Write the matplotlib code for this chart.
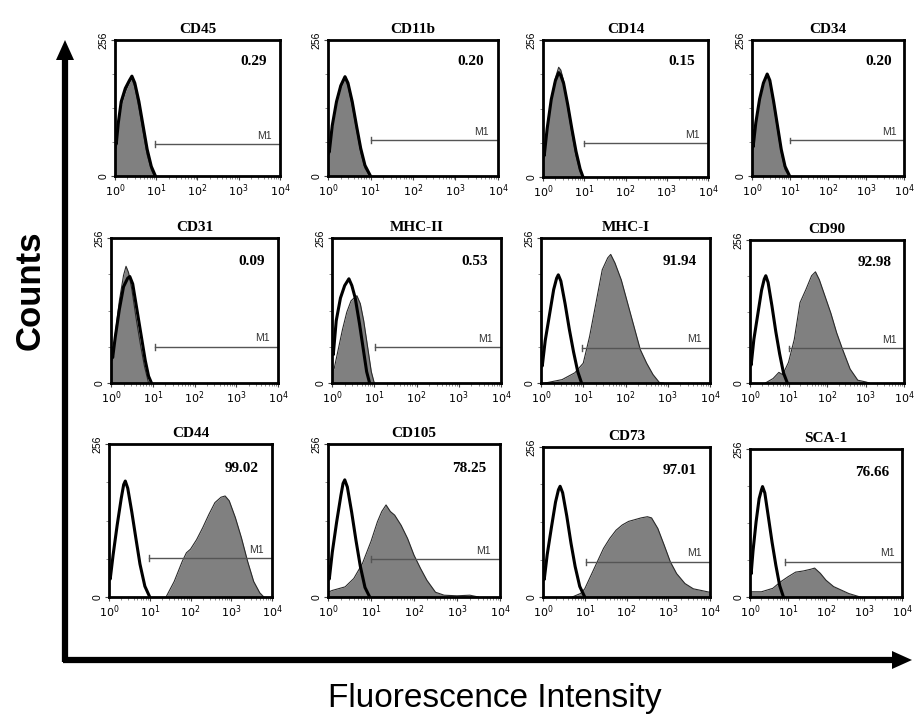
import matplotlib
matplotlib.use("Agg")
import matplotlib.pyplot as plt
from matplotlib.ticker import FixedLocator, NullFormatter, LogLocator

# ---------------- data ----------------
markers = ["CD45", "CD11b", "CD14", "CD34",
           "CD31", "MHC-II", "MHC-I", "CD90",
           "CD44", "CD105", "CD73", "SCA-1"]
percentages = ["0.29", "0.20", "0.15", "0.20",
               "0.09", "0.53", "91.94", "92.98",
               "99.02", "78.25", "97.01", "76.66"]
# M1 gate: start (decades) and level (counts)
m1_start = [0.98, 1.0, 1.0, 1.0, 1.05, 1.01, 0.98, 1.02, 0.98, 0.99, 1.03, 0.92]
m1_level = [60, 68, 63, 67, 64, 63, 62, 62, 65, 63, 60, 61]

# isotype control histograms (decade, counts)
control_dec = [
    [0, 0.03, 0.08, 0.15, 0.25, 0.35, 0.41, 0.48, 0.58, 0.68, 0.78, 0.88, 0.98],
    [0, 0.03, 0.1, 0.2, 0.3, 0.4, 0.47, 0.57, 0.67, 0.77, 0.87, 1.0],
    [0, 0.03, 0.1, 0.2, 0.3, 0.38, 0.43, 0.5, 0.6, 0.7, 0.8, 0.9, 0.97],
    [0, 0.03, 0.1, 0.2, 0.3, 0.4, 0.47, 0.57, 0.67, 0.77, 0.87, 0.99],
    [0, 0.04, 0.1, 0.2, 0.3, 0.4, 0.45, 0.52, 0.62, 0.72, 0.82, 0.9, 0.97],
    [0, 0.03, 0.1, 0.2, 0.3, 0.4, 0.47, 0.55, 0.65, 0.75, 0.82, 0.89],
    [0, 0.03, 0.1, 0.2, 0.3, 0.37, 0.41, 0.47, 0.57, 0.67, 0.77, 0.87, 0.96],
    [0, 0.03, 0.1, 0.2, 0.3, 0.37, 0.41, 0.47, 0.57, 0.67, 0.77, 0.87, 0.97],
    [0, 0.03, 0.1, 0.2, 0.3, 0.36, 0.40, 0.46, 0.56, 0.66, 0.76, 0.88, 1.0],
    [0, 0.03, 0.1, 0.2, 0.3, 0.35, 0.39, 0.45, 0.55, 0.65, 0.75, 0.86, 0.97],
    [0, 0.03, 0.1, 0.2, 0.3, 0.37, 0.41, 0.47, 0.57, 0.67, 0.77, 0.88, 1.0],
    [0, 0.03, 0.08, 0.16, 0.24, 0.3, 0.33, 0.39, 0.48, 0.58, 0.68, 0.78, 0.88],
]
control_cnt = [
    [80, 60, 100, 140, 165, 180, 188, 175, 140, 95, 50, 18, 0],
    [60, 45, 95, 140, 170, 187, 175, 140, 95, 52, 20, 0],
    [55, 40, 90, 145, 180, 195, 190, 175, 135, 90, 48, 15, 0],
    [85, 55, 100, 145, 175, 192, 180, 140, 95, 50, 18, 0],
    [62, 45, 80, 130, 170, 185, 188, 175, 130, 85, 40, 12, 0],
    [70, 50, 110, 150, 172, 184, 172, 150, 105, 55, 20, 0],
    [53, 30, 75, 120, 165, 185, 191, 180, 140, 95, 55, 20, 0],
    [55, 32, 78, 122, 166, 186, 192, 180, 138, 92, 52, 18, 0],
    [38, 30, 70, 120, 165, 188, 194, 182, 142, 98, 55, 18, 0],
    [50, 30, 75, 125, 170, 190, 196, 184, 142, 95, 52, 16, 0],
    [50, 30, 72, 118, 162, 183, 189, 178, 138, 92, 52, 18, 0],
    [60, 40, 80, 130, 170, 185, 191, 180, 140, 95, 55, 20, 0],
]

# stained sample histograms (decade, counts)
sample_dec = [
    [0, 0.03, 0.08, 0.15, 0.25, 0.35, 0.41, 0.48, 0.58, 0.68, 0.78, 0.88, 0.95],
    [0, 0.03, 0.1, 0.2, 0.3, 0.4, 0.47, 0.57, 0.67, 0.77, 0.87, 0.98],
    [0, 0.03, 0.1, 0.2, 0.3, 0.38, 0.43, 0.5, 0.6, 0.7, 0.8, 0.9, 0.96],
    [0, 0.03, 0.1, 0.2, 0.3, 0.4, 0.47, 0.57, 0.67, 0.77, 0.87, 0.97],
    [0, 0.04, 0.1, 0.2, 0.3, 0.36, 0.42, 0.5, 0.6, 0.7, 0.8, 0.9],
    [0, 0.05, 0.15, 0.25, 0.35, 0.45, 0.52, 0.59, 0.67, 0.75, 0.85, 0.93, 1.0],
    [0.1, 0.5, 0.8, 1.0, 1.15, 1.3, 1.45, 1.58, 1.65, 1.75, 1.9, 2.05, 2.2, 2.35, 2.5, 2.65, 2.8, 2.9],
    [0.4, 0.6, 0.75, 0.85, 1.0, 1.15, 1.3, 1.45, 1.6, 1.7, 1.8, 1.95, 2.1, 2.25, 2.4, 2.6, 2.8, 3.0, 3.1],
    [1.4, 1.6, 1.8, 1.9, 2.0, 2.15, 2.3, 2.45, 2.6, 2.75, 2.85, 2.95, 3.1, 3.25, 3.4, 3.55, 3.7, 3.8],
    [0, 0.1, 0.4, 0.6, 0.8, 1.0, 1.15, 1.25, 1.35, 1.45, 1.55, 1.7, 1.85, 2.0, 2.15, 2.3, 2.5, 2.7, 3.0, 3.3, 3.5],
    [0.7, 0.9, 1.0, 1.15, 1.3, 1.45, 1.6, 1.75, 1.9, 2.05, 2.2, 2.35, 2.5, 2.6, 2.75, 2.9, 3.05, 3.2, 3.4, 3.6, 3.8, 4.0],
    [0, 0.3, 0.6, 0.8, 1.0, 1.2, 1.4, 1.6, 1.7, 1.85, 2.0, 2.2, 2.4, 2.6, 2.8, 2.9],
]
sample_cnt = [
    [72, 52, 92, 132, 158, 176, 183, 168, 128, 84, 40, 12, 0],
    [55, 40, 90, 135, 166, 183, 170, 132, 88, 45, 15, 0],
    [50, 35, 85, 145, 185, 205, 200, 180, 130, 82, 40, 10, 0],
    [80, 50, 95, 140, 172, 190, 176, 134, 88, 44, 12, 0],
    [55, 40, 85, 145, 190, 206, 195, 165, 115, 70, 30, 0],
    [20, 25, 60, 95, 125, 145, 150, 154, 140, 110, 60, 20, 0],
    [0, 6, 18, 35, 82, 141, 200, 221, 227, 212, 182, 141, 100, 59, 35, 15, 1, 0],
    [0, 8, 19, 15, 37, 78, 144, 167, 192, 199, 185, 155, 125, 90, 61, 25, 5, 2, 0],
    [0, 26, 60, 74, 80, 96, 116, 138, 158, 167, 169, 161, 133, 99, 60, 26, 7, 0],
    [8, 11, 17, 31, 56, 93, 126, 143, 154, 143, 137, 120, 98, 70, 48, 28, 8, 3, 2, 3, 0],
    [0, 6, 14, 37, 60, 83, 100, 114, 123, 129, 132, 135, 137, 135, 117, 89, 60, 40, 23, 14, 11, 8],
    [9, 9, 15, 26, 35, 43, 45, 48, 50, 41, 29, 18, 12, 6, 2, 0],
]

tick_labels = ["$10^0$", "$10^1$", "$10^2$", "$10^3$", "$10^4$"]

# ---------------- layout (pixel boxes: left, right, top, bottom) ----------------
W, H = 919, 720
boxes = [
    (115, 280, 40, 176), (328, 498, 40, 176), (543, 708, 40, 177), (752, 904, 40, 176),
    (111, 278, 238, 383), (332, 501, 238, 383), (541, 710, 238, 383), (750, 904, 240, 383),
    (109, 272, 444, 597), (328, 500, 444, 597), (543, 710, 447, 597), (750, 902, 449, 597),
]

fig = plt.figure(figsize=(W / 100, H / 100), dpi=100)
serif = "Liberation Serif"
sans = "Liberation Sans"

for i, (l, r, t, b) in enumerate(boxes):
    ax = fig.add_axes([l / W, 1 - b / H, (r - l) / W, (b - t) / H])
    sx = [10 ** d for d in sample_dec[i]]
    cx = [10 ** d for d in control_dec[i]]
    ax.fill_between(sx, sample_cnt[i], 0, color="#808080", lw=0, zorder=2)
    ax.plot(sx, sample_cnt[i], color="#2a2a2a", lw=0.8, zorder=3)
    ax.plot(cx, control_cnt[i], color="black", lw=2.2, zorder=4)

    # M1 gate
    x0 = 10 ** m1_start[i]
    ax.plot([x0, 1e4], [m1_level[i], m1_level[i]], color="#555555", lw=1.0, zorder=5)
    ax.plot([x0, x0], [m1_level[i] - 5, m1_level[i] + 5], color="#555555", lw=1.0, zorder=5)
    ax.text(10 ** 3.62, m1_level[i] + 6, "M1", fontsize=7.5, family=sans,
            color="#333333", ha="center", va="bottom", zorder=6)

    ax.text(0.92, 0.84, percentages[i], transform=ax.transAxes, fontsize=11,
            family=serif, fontweight="bold", ha="right", va="center", zorder=6)
    ax.set_title(markers[i], fontsize=11, family=serif, fontweight="bold", pad=5)

    ax.set_xscale("log")
    ax.set_xlim(1, 1e4)
    ax.set_ylim(0, 256)
    ax.xaxis.set_major_locator(FixedLocator([1, 10, 100, 1000, 10000]))
    ax.set_xticklabels(tick_labels, fontsize=8)
    ax.xaxis.set_minor_locator(LogLocator(base=10, subs=range(2, 10), numticks=20))
    ax.xaxis.set_minor_formatter(NullFormatter())
    ax.set_yticks([0, 256])
    ax.set_yticklabels(["0", "256"], fontsize=7.5, family=sans, rotation=90, va="center")
    ax.set_yticks([64, 128, 192], minor=True)
    ax.tick_params(axis="both", which="major", length=3, width=0.8, pad=1.5, color="#444444")
    ax.tick_params(axis="both", which="minor", length=2, width=0.6, color="#777777")
    for sp in ax.spines.values():
        sp.set_linewidth(2.0)
        sp.set_zorder(7)

# big axes arrows
ov = fig.add_axes([0, 0, 1, 1], facecolor="none")
ov.set_xlim(0, W)
ov.set_ylim(H, 0)
ov.axis("off")
ov.plot([65, 65], [662, 55], color="black", lw=4.5, solid_capstyle="butt")
ov.plot([63, 895], [660, 660], color="black", lw=4.5, solid_capstyle="butt")
ov.fill([56, 74, 65], [60, 60, 40], color="black", lw=0)
ov.fill([892, 892, 912], [651, 669, 660], color="black", lw=0)

fig.text(30 / W, 1 - 290 / H, "Counts", rotation=90, fontsize=25, family=sans,
         fontweight="bold", ha="center", va="center")
fig.text(495 / W, 1 - 698 / H, "Fluorescence Intensity", fontsize=24, family=sans,
         ha="center", va="center")

fig.savefig("out.png", dpi=100)
